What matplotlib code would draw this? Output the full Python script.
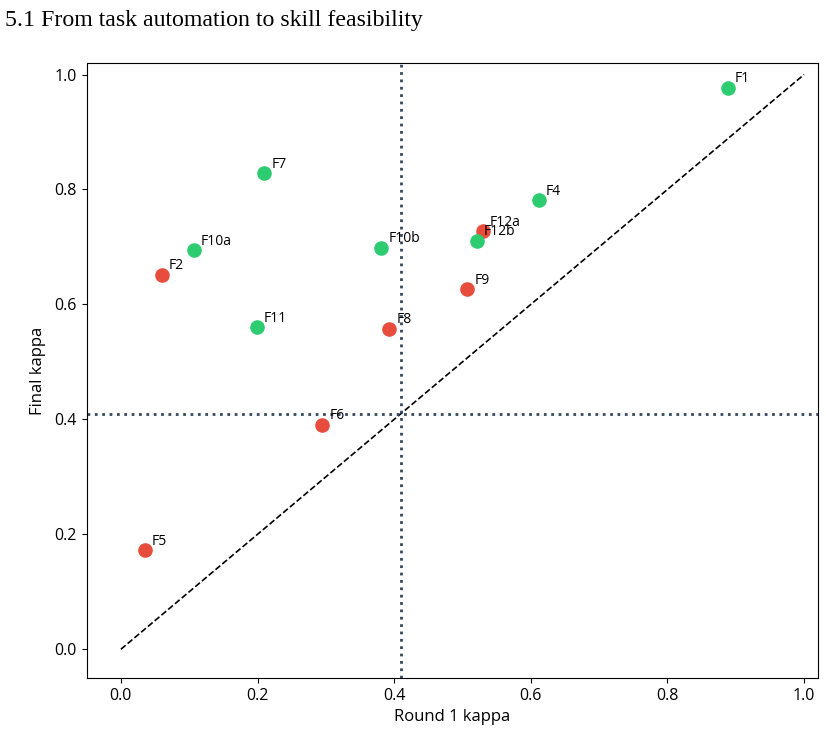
import matplotlib.pyplot as plt

plt.rcParams['font.family'] = ['Open Sans', 'DejaVu Sans']

labels = ['F1', 'F2', 'F4', 'F5', 'F6', 'F7', 'F8', 'F9', 'F10a', 'F10b', 'F11', 'F12a', 'F12b']
round1 = [0.888, 0.060, 0.612, 0.035, 0.295, 0.210, 0.393, 0.507, 0.107, 0.381, 0.199, 0.530, 0.521]
final = [0.977, 0.652, 0.781, 0.172, 0.391, 0.828, 0.558, 0.626, 0.694, 0.699, 0.560, 0.727, 0.711]
status = ['ok', 'low', 'ok', 'low', 'low', 'ok', 'low', 'low', 'ok', 'ok', 'ok', 'low', 'ok']
x_cut = 0.41
y_cut = 0.41

colours = {'ok': '#2ecc71', 'low': '#e74c3c'}

fig = plt.figure(figsize=(8.26, 7.38), dpi=100)
ax = fig.add_axes([0.105, 0.0813, 0.885, 0.8333])

ax.plot([0, 1], [0, 1], 'k--', lw=1.2)
ax.axvline(x_cut, color='#34495e', ls=':', lw=2)
ax.axhline(y_cut, color='#34495e', ls=':', lw=2)

for lab, x, y, s in zip(labels, round1, final, status):
    ax.scatter(x, y, s=90, color=colours[s], zorder=3)
    ax.annotate(lab, (x, y), xytext=(5, 4), textcoords='offset points', fontsize=10)

ax.set_xlim(-0.05, 1.02)
ax.set_ylim(-0.05, 1.02)
ax.tick_params(labelsize=11.5)
ax.set_xlabel('Round 1 kappa', fontsize=12)
ax.set_ylabel('Final kappa', fontsize=12, labelpad=6)

fig.text(0.006, 0.986, '5.1 From task automation to skill feasibility',
         family='Liberation Serif', fontsize=17.2, va='top', ha='left')

fig.savefig('out.png', dpi=100)
